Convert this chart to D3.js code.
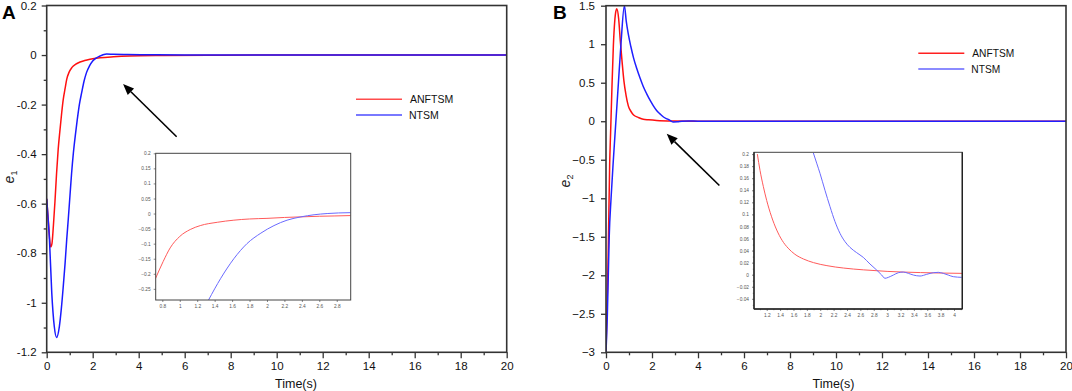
<!DOCTYPE html>
<html><head><meta charset="utf-8">
<script src="https://cdn.jsdelivr.net/npm/d3@7"></script>
<style>
body{margin:0;background:#fff}
svg{display:block}
text{font-family:"Liberation Sans",Arial,Helvetica,sans-serif}
</style>
</head><body>
<svg id="c" width="1072" height="391"></svg>
<script>
// ---------- DATA ----------
const seriesNames = ["ANFTSM", "NTSM"];

// Panel A (e1), main plot
const aRedT  = [0, 0.08, 0.17, 0.23, 0.29, 0.36, 0.43, 0.5, 0.58, 0.65, 0.72, 0.8, 0.87, 0.97, 1.09, 1.25, 1.45, 1.65, 1.88, 2.32, 2.9, 3.6, 5, 7, 10, 20];
const aRedV  = [-0.58, -0.68, -0.775, -0.76, -0.69, -0.59, -0.476, -0.38, -0.30, -0.235, -0.179, -0.135, -0.098, -0.07, -0.051, -0.038, -0.028, -0.022, -0.017, -0.011, -0.007, -0.004, -0.002, -0.001, 0, 0];
const aBlueT = [0, 0.06, 0.12, 0.22, 0.33, 0.43, 0.55, 0.63, 0.72, 0.8, 0.87, 0.94, 1.01, 1.08, 1.16, 1.25, 1.33, 1.42, 1.52, 1.62, 1.73, 1.86, 2.0, 2.15, 2.32, 2.45, 2.61, 2.9, 3.5, 4.5, 6, 10, 20];
const aBlueV = [-0.58, -0.66, -0.745, -0.96, -1.096, -1.14, -1.096, -1.03, -0.934, -0.84, -0.745, -0.66, -0.57, -0.48, -0.395, -0.32, -0.26, -0.20, -0.152, -0.107, -0.071, -0.044, -0.024, -0.012, -0.004, 0.001, 0.004, 0.003, 0.002, 0.001, 0, 0, 0];

// Panel A inset
const aInRedT  = [0.72, 0.81, 0.89, 1.0, 1.12, 1.235, 1.43, 1.62, 1.8, 2.0, 2.2, 2.39, 2.6, 2.77, 2.96];
const aInRedV  = [-0.217, -0.159, -0.114, -0.076, -0.053, -0.04, -0.029, -0.022, -0.018, -0.016, -0.013, -0.011, -0.009, -0.008, -0.0067];
const aInBlueT = [1.33, 1.47, 1.62, 1.77, 1.93, 2.08, 2.23, 2.39, 2.54, 2.69, 2.82, 2.96];
const aInBlueV = [-0.287, -0.215, -0.15, -0.1, -0.065, -0.04, -0.022, -0.011, -0.004, 0.0, 0.002, 0.003];

// Panel B (e2), main plot
const bRedT  = [0, 0.05, 0.1, 0.16, 0.2, 0.26, 0.32, 0.38, 0.43, 0.47, 0.55, 0.62, 0.7, 0.78, 0.87, 0.97, 1.1, 1.2, 1.4, 1.62, 1.85, 2.2, 2.9, 4, 20];
const bRedV  = [-3, -2.35, -1.65, -0.55, -0.15, 0.45, 0.98, 1.3, 1.43, 1.46, 1.33, 1.05, 0.77, 0.52, 0.34, 0.2, 0.12, 0.08, 0.05, 0.025, 0.018, 0.01, 0.003, 0, 0];
const bBlueT = [0, 0.06, 0.1, 0.14, 0.22, 0.32, 0.43, 0.54, 0.65, 0.8, 0.88, 0.97, 1.08, 1.2, 1.33, 1.48, 1.62, 1.77, 1.92, 2.06, 2.2, 2.35, 2.5, 2.65, 2.78, 2.93, 3.1, 3.3, 3.6, 4, 20];
const bBlueV = [-3, -2.5, -2, -1.5, -1.0, -0.5, 0, 0.5, 1.0, 1.5, 1.3, 1.13, 0.97, 0.82, 0.69, 0.56, 0.45, 0.355, 0.27, 0.2, 0.14, 0.095, 0.055, 0.03, 0.012, -0.01, -0.008, 0, 0.003, 0, 0];

// Panel B inset
const bInRedT  = [1.06, 1.1, 1.15, 1.2, 1.27, 1.35, 1.43, 1.52, 1.62, 1.75, 1.9, 2.1, 2.35, 2.65, 3.0, 3.5, 4.12];
const bInRedV  = [0.2, 0.173, 0.146, 0.123, 0.097, 0.074, 0.057, 0.044, 0.034, 0.026, 0.02, 0.015, 0.011, 0.008, 0.0055, 0.0035, 0.0022];
const bInBlueT = [1.897, 1.947, 1.997, 2.071, 2.146, 2.221, 2.296, 2.371, 2.445, 2.545, 2.644, 2.744, 2.844, 2.919, 2.968, 3.018, 3.093, 3.168, 3.243, 3.318, 3.393, 3.492, 3.592, 3.69, 3.765, 3.84, 3.914, 3.989, 4.115];
const bInBlueV = [0.202, 0.185, 0.168, 0.140, 0.113, 0.088, 0.0685, 0.0547, 0.0453, 0.0365, 0.0287, 0.0177, 0.0077, -0.0006, -0.006, -0.0044, -0.0006, 0.0033, 0.0044, 0.0022, -0.0006, -0.0022, 0.0006, 0.0033, 0.0039, 0.0022, -0.0006, -0.0033, -0.0044];

// Ticks
const xTicksMain   = [0, 2, 4, 6, 8, 10, 12, 14, 16, 18, 20];
const xMinorMain   = [1, 3, 5, 7, 9, 11, 13, 15, 17, 19];
const aYTicks      = [0.2, 0, -0.2, -0.4, -0.6, -0.8, -1, -1.2];
const aYTickLabels = ["0.2", "0", "-0.2", "-0.4", "-0.6", "-0.8", "-1", "-1.2"];
const aYMinor      = [0.1, -0.1, -0.3, -0.5, -0.7, -0.9, -1.1];
const bYTicks      = [1.5, 1, 0.5, 0, -0.5, -1, -1.5, -2, -2.5, -3];
const bYTickLabels = ["1.5", "1", "0.5", "0", "\u22120.5", "\u22121", "\u22121.5", "\u22122", "\u22122.5", "\u22123"];
const aInXTicks    = [0.8, 1, 1.2, 1.4, 1.6, 1.8, 2, 2.2, 2.4, 2.6, 2.8];
const aInYTicks    = [0.2, 0.15, 0.1, 0.05, 0, -0.05, -0.1, -0.15, -0.2, -0.25];
const bInXTicks    = [1.2, 1.4, 1.6, 1.8, 2, 2.2, 2.4, 2.6, 2.8, 3, 3.2, 3.4, 3.6, 3.8, 4];
const bInXMinor    = [1.1, 1.3, 1.5, 1.7, 1.9, 2.1, 2.3, 2.5, 2.7, 2.9, 3.1, 3.3, 3.5, 3.7, 3.9, 4.1];
const bInYTicks    = [0.2, 0.18, 0.16, 0.14, 0.12, 0.1, 0.08, 0.06, 0.04, 0.02, 0, -0.02, -0.04];
const bInYMinor    = [0.19, 0.17, 0.15, 0.13, 0.11, 0.09, 0.07, 0.05, 0.03, 0.01, -0.01, -0.03, -0.05];

// Arrow annotations (data coordinates: tail -> head)
const aArrow = [[5.65, -0.33], [3.32, -0.117]];
const bArrow = [[4.93, -0.835], [2.64, -0.164]];

// ---------- DRAW ----------
const svg = d3.select("#c");
const zip = (t, v) => t.map((d, i) => [d, v[i]]);

function drawAxisBox(g, x, y, stroke, sw) {
  const [x0, x1] = x.range(), [y0, y1] = y.range();
  g.append("rect").attr("x", x0).attr("y", y1).attr("width", x1 - x0).attr("height", y0 - y1)
    .attr("fill", "none").attr("stroke", stroke).attr("stroke-width", sw);
}

function styleAxis(sel, fs, color, sw) {
  sel.select(".domain").remove();
  sel.selectAll("line").attr("stroke", color).attr("stroke-width", sw);
  sel.selectAll("text").attr("font-size", fs).attr("fill", color === "#333" ? "#111" : color)
    .attr("font-family", '"Liberation Sans",Arial,sans-serif');
}

function mainPanel(o) {
  const g = svg.append("g");
  const x = d3.scaleLinear().domain([0, 20]).range([o.left, o.right]);
  const y = d3.scaleLinear().domain(o.yDomain).range([o.bottom, o.top]);

  const ax = g.append("g").attr("transform", `translate(0,${o.bottom})`)
    .call(d3.axisBottom(x).tickValues(xTicksMain).tickSize(6).tickPadding(4).tickFormat(d3.format("d")));
  styleAxis(ax, 11.5, "#333", 1.3);
  const axm = g.append("g").attr("transform", `translate(0,${o.bottom})`)
    .call(d3.axisBottom(x).tickValues(xMinorMain).tickSize(3).tickFormat(""));
  styleAxis(axm, 11, "#333", 1.3);

  const ay = g.append("g").attr("transform", `translate(${o.left},0)`)
    .call(d3.axisLeft(y).tickValues(o.yTicks).tickSize(5).tickPadding(o.yPad)
      .tickFormat((d, i) => o.yLabels[i]));
  styleAxis(ay, 11.5, "#333", 1.3);
  if (o.yMinor) {
    const aym = g.append("g").attr("transform", `translate(${o.left},0)`)
      .call(d3.axisLeft(y).tickValues(o.yMinor).tickSize(3).tickFormat(""));
    styleAxis(aym, 11, "#333", 1.3);
  }

  const cid = "clip" + o.id;
  svg.append("clipPath").attr("id", cid).append("rect")
    .attr("x", o.left).attr("y", o.top).attr("width", o.right - o.left).attr("height", o.bottom - o.top);

  const line = d3.line().x(d => x(d[0])).y(d => y(d[1])).curve(d3.curveMonotoneX);
  const lg = g.append("g").attr("clip-path", `url(#${cid})`);
  lg.append("path").datum(zip(o.redT, o.redV)).attr("d", line)
    .attr("fill", "none").attr("stroke", "#ff1010").attr("stroke-width", 1.5);
  lg.append("path").datum(zip(o.blueT, o.blueV)).attr("d", line)
    .attr("fill", "none").attr("stroke", o.blueColor).attr("stroke-width", 1.5);

  drawAxisBox(g, x, y, "#333", 1.6);

  // arrow
  const [p0, p1] = o.arrow.map(d => [x(d[0]), y(d[1])]);
  const ang = Math.atan2(p1[1] - p0[1], p1[0] - p0[0]);
  const hl = 11, hw = 4.5;
  const bx = p1[0] - hl * Math.cos(ang), by = p1[1] - hl * Math.sin(ang);
  g.append("line").attr("x1", p0[0]).attr("y1", p0[1]).attr("x2", bx).attr("y2", by)
    .attr("stroke", "#000").attr("stroke-width", 1.6);
  g.append("path").attr("d", d3.line()([
    p1,
    [bx + hw * Math.sin(ang), by - hw * Math.cos(ang)],
    [bx - hw * Math.sin(ang), by + hw * Math.cos(ang)]
  ]) + "Z").attr("fill", "#000");

  // legend
  const lgd = g.append("g");
  seriesNames.forEach((name, i) => {
    const yy = o.legY + i * o.legDy;
    lgd.append("line").attr("x1", o.legX).attr("x2", o.legX + 46).attr("y1", yy).attr("y2", yy)
      .attr("stroke", o.legColors[i]).attr("stroke-width", 1.6);
    lgd.append("text").attr("x", o.legX + 54 - (i ? 1 : 0)).attr("y", yy + 4)
      .attr("font-size", o.legFs).attr("fill", "#111").text(name);
  });

  g.append("text").attr("x", o.xTitleX).attr("y", 387.5).attr("text-anchor", "middle")
    .attr("font-size", 12.5).attr("fill", "#111").text("Time(s)");

  const yt = g.append("text").attr("transform", `translate(${o.yTitleX},${o.yTitleY}) rotate(-90)`)
    .attr("text-anchor", "middle").attr("font-family", '"Liberation Serif","DejaVu Serif",serif')
    .attr("fill", "#222");
  yt.append("tspan").attr("font-style", "italic").attr("font-size", 14).text("e");
  yt.append("tspan").attr("font-size", 9).attr("dy", 3).text(o.sub);

  g.append("text").attr("x", o.letterX).attr("y", 18.5).attr("font-size", 19).attr("font-weight", "bold")
    .attr("fill", "#000").text(o.letter);

  return g;
}

function inset(o) {
  const g = svg.append("g");
  const x = d3.scaleLinear().domain(o.xDomain).range([o.left, o.right]);
  const y = d3.scaleLinear().domain(o.yDomain).range([o.bottom, o.top]);
  g.append("rect").attr("x", o.left).attr("y", o.top).attr("width", o.right - o.left)
    .attr("height", o.bottom - o.top).attr("fill", "#fff");

  const ax = g.append("g").attr("transform", `translate(0,${o.bottom})`)
    .call(d3.axisBottom(x).tickValues(o.xTicks).tickSize(2).tickPadding(3).tickFormat(d => d3.format("")(+d.toFixed(2))));
  styleAxis(ax, 4.8, "#555", 0.7);
  if (o.xMinor) {
    const axm = g.append("g").attr("transform", `translate(0,${o.bottom})`)
      .call(d3.axisBottom(x).tickValues(o.xMinor).tickSize(1.2).tickFormat(""));
    styleAxis(axm, 4.8, "#555", 0.7);
  }
  const ay = g.append("g").attr("transform", `translate(${o.left},0)`)
    .call(d3.axisLeft(y).tickValues(o.yTicks).tickSize(2).tickPadding(3).tickFormat(d => d3.format("")(+d.toFixed(3))));
  styleAxis(ay, 4.8, "#555", 0.7);
  if (o.yMinor) {
    const aym = g.append("g").attr("transform", `translate(${o.left},0)`)
      .call(d3.axisLeft(y).tickValues(o.yMinor).tickSize(1.2).tickFormat(""));
    styleAxis(aym, 4.8, "#555", 0.7);
  }

  const cid = "clip" + o.id;
  svg.append("clipPath").attr("id", cid).append("rect")
    .attr("x", o.left).attr("y", o.top).attr("width", o.right - o.left).attr("height", o.bottom - o.top);
  const line = d3.line().x(d => x(d[0])).y(d => y(d[1])).curve(d3.curveMonotoneX);
  const lg = g.append("g").attr("clip-path", `url(#${cid})`);
  lg.append("path").datum(zip(o.redT, o.redV)).attr("d", line)
    .attr("fill", "none").attr("stroke", "#ff5a5a").attr("stroke-width", 1);
  lg.append("path").datum(zip(o.blueT, o.blueV)).attr("d", line)
    .attr("fill", "none").attr("stroke", "#6a6aff").attr("stroke-width", 1);

  drawAxisBox(g, x, y, "#444", 1);
  if (o.heavyAxes) {
    g.append("line").attr("x1", o.left).attr("x2", o.left).attr("y1", o.top).attr("y2", o.bottom)
      .attr("stroke", "#222").attr("stroke-width", 1.4);
    g.append("line").attr("x1", o.left).attr("x2", o.right).attr("y1", o.bottom).attr("y2", o.bottom)
      .attr("stroke", "#222").attr("stroke-width", 1.4);
    g.append("line").attr("x1", o.right).attr("x2", o.right).attr("y1", o.top).attr("y2", o.bottom)
      .attr("stroke", "#222").attr("stroke-width", 1.4);
  }
}

// Panel A
mainPanel({
  id: "A", left: 46.7, right: 506.7, top: 5.5, bottom: 352.3,
  yDomain: [-1.2, 0.2], yTicks: aYTicks, yLabels: aYTickLabels, yMinor: aYMinor, yPad: 5,
  redT: aRedT, redV: aRedV, blueT: aBlueT, blueV: aBlueV, blueColor: "#1a1aff",
  arrow: aArrow, legX: 356, legY: 99.3, legDy: 15.7, legColors: ["#ff4d4d", "#4d4dff"], legFs: 10.5,
  xTitleX: 296, yTitleX: 14, yTitleY: 177, sub: "1", letter: "A", letterX: 2
});
inset({
  id: "Ai", left: 155.7, right: 350.7, top: 153.3, bottom: 300,
  xDomain: [0.724, 2.96], yDomain: [-0.287, 0.2],
  xTicks: aInXTicks, yTicks: aInYTicks,
  redT: aInRedT, redV: aInRedV, blueT: aInBlueT, blueV: aInBlueV
});

// Panel B
mainPanel({
  id: "B", left: 606, right: 1066, top: 5.7, bottom: 352.3,
  yDomain: [-3, 1.5], yTicks: bYTicks, yLabels: bYTickLabels, yMinor: null, yPad: 6,
  redT: bRedT, redV: bRedV, blueT: bBlueT, blueV: bBlueV, blueColor: "#1f1fff",
  arrow: bArrow, legX: 918.3, legY: 53.3, legDy: 15.7, legColors: ["#ff2020", "#6464ff"], legFs: 10.2,
  xTitleX: 833.5, yTitleX: 570, yTitleY: 181, sub: "2", letter: "B", letterX: 553
});
inset({
  id: "Bi", left: 754, right: 962.3, top: 152.3, bottom: 309,
  xDomain: [1.01, 4.124], yDomain: [-0.0569, 0.203],
  xTicks: bInXTicks, xMinor: bInXMinor, yTicks: bInYTicks, yMinor: bInYMinor,
  redT: bInRedT, redV: bInRedV, blueT: bInBlueT, blueV: bInBlueV, heavyAxes: true
});
</script>
</body></html>
